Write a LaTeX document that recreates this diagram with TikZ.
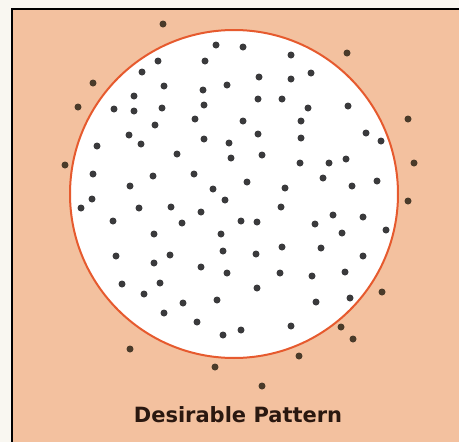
\documentclass[tikz,border=0pt]{standalone}
\usepackage{fontspec}
\usepackage{xcolor}
\usepackage{tikz}
\newfontfamily\captionfont{DejaVu Sans}
\definecolor{pagebg}{HTML}{F9F7F1}
\definecolor{peach}{HTML}{F3C19F}
\definecolor{ringred}{HTML}{E65A2E}
\definecolor{dotgray}{HTML}{3A3A3C}
\definecolor{dotbrown}{HTML}{4A3B2A}
\definecolor{captiondark}{HTML}{2A1810}

\begin{document}
\begin{tikzpicture}[x=1pt,y=-1pt,
    indot/.style={circle,fill=dotgray,inner sep=0pt,minimum size=7pt},
    outdot/.style={circle,fill=dotbrown,inner sep=0pt,minimum size=7pt},
    field/.style={circle,draw=ringred,line width=2pt,fill=white,
                  minimum size=328pt,inner sep=0pt},
  ]
  \useasboundingbox (0,0) rectangle (459,442);
  \fill[pagebg] (0,0) rectangle (459,442);
  \fill[peach] (12,9) rectangle (459,442);
  \draw[line width=1.2pt] (12,442) -- (12,9) -- (459,9);

  \node[field] (disc) at (234,194) {};

  % dots inside the circle
  \foreach \x/\y [count=\i] in {216/45,243/47,291/55,158/61,205/61,311/73,142/72,
      259/77,291/79,164/86,227/85,203/90,134/96,258/99,282/99,114/109,134/111,
      162/108,204/105,308/108,348/106,195/119,243/121,301/121,155/125,129/135,
      258/134,366/133,141/144,97/146,204/139,229/143,301/138,381/141,177/154,
      231/158,262/155,300/163,329/163,346/159,93/174,153/176,194/174,247/182,
      323/178,377/181,130/186,213/189,285/188,352/186,92/199,225/200,81/208,
      139/208,171/207,201/212,281/207,333/215,363/217,113/221,182/223,241/221,
      257/222,315/224,342/233,386/230,154/234,221/234,223/251,282/247,321/248,
      116/256,170/255,256/254,363/256,154/263,201/267,227/273,280/273,312/276,
      345/272,122/284,160/283,257/288,144/294,183/303,217/300,316/302,350/298,
      164/313,197/322,241/330,223/335,291/326}
    \node[indot] (in\i) at (\x,\y) {};
  \node[outdot] (edge1) at (341,327) {};

  % dots outside the circle
  \foreach \x/\y [count=\i] in {163/24,347/53,93/83,408/119,78/107,414/163,
      65/165,408/201,382/292,353/339,130/349,299/356,215/367,262/386}
    \node[outdot] (out\i) at (\x,\y) {};

  \node[font=\captionfont\bfseries\fontsize{21}{24}\selectfont,
        text=captiondark] (caption) at (238,415) {Desirable Pattern};
\end{tikzpicture}
\end{document}
